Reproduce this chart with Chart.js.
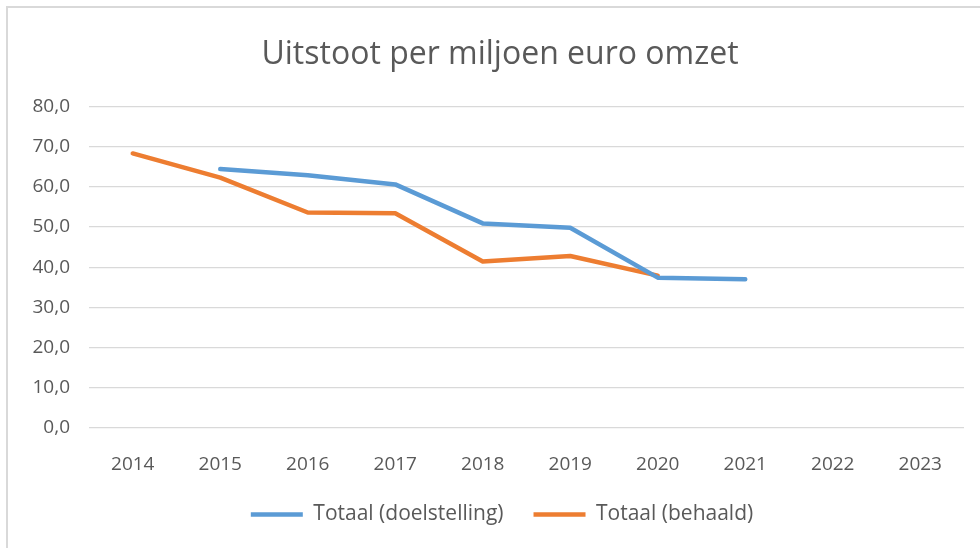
<!DOCTYPE html>
<html>
<head>
<meta charset="utf-8">
<script src="https://cdn.jsdelivr.net/npm/chart.js@4"></script>
<style>
    html, body { margin: 0; padding: 0; background: #fff; }
    #wrap { position: relative; width: 980px; height: 548px; overflow: hidden; }
    #frame { position: absolute; left: 6px; top: 6px; right: -4px; bottom: -4px; border-left: 2px solid #d9d9d9; border-top: 2px solid #d9d9d9; }
    #chart { position: absolute; left: 0; top: 0; }
</style>
</head>
<body>
<div id="wrap">
    <div id="frame"></div>
    <canvas id="chart" width="980" height="548"></canvas>
</div>
<script>
const years = ['2014', '2015', '2016', '2017', '2018', '2019', '2020', '2021', '2022', '2023'];
const doelstelling = [null, 64.4, 62.9, 60.6, 50.9, 49.8, 37.4, 37.0, null, null];
const behaald = [68.3, 62.3, 53.6, 53.4, 41.4, 42.8, 37.9, null, null, null];
const seriesNames = ['Totaal (doelstelling)', 'Totaal (behaald)'];

const textColor = '#595959';
const fontFamily = '"Open Sans", "DejaVu Sans", sans-serif';

Chart.defaults.font.family = fontFamily;
Chart.defaults.color = textColor;

// centre title and legend over the whole frame, not only the padded box
const shiftBoxes = {
    id: 'shiftBoxes',
    afterLayout(chart) {
        if (chart.titleBlock) chart.titleBlock.left += 36;
        if (chart.legend) chart.legend.left += 40;
    }
};

const ctx = document.getElementById('chart').getContext('2d');
new Chart(ctx, {
    type: 'line',
    data: {
        labels: years,
        datasets: [
            {
                label: seriesNames[0],
                data: doelstelling,
                borderColor: '#5B9BD5',
                backgroundColor: '#5B9BD5',
                borderWidth: 4.5,
                pointRadius: 0,
                tension: 0,
                borderCapStyle: 'round',
                borderJoinStyle: 'round'
            },
            {
                label: seriesNames[1],
                data: behaald,
                borderColor: '#ED7D31',
                backgroundColor: '#ED7D31',
                borderWidth: 4.5,
                pointRadius: 0,
                tension: 0,
                borderCapStyle: 'round',
                borderJoinStyle: 'round'
            }
        ]
    },
    plugins: [shiftBoxes],
    options: {
        responsive: false,
        animation: false,
        layout: { padding: { left: 0, right: 16, top: 0, bottom: 13 } },
        plugins: {
            title: {
                display: true,
                text: 'Uitstoot per miljoen euro omzet',
                color: textColor,
                font: { size: 32, weight: 'normal', lineHeight: 1.2 },
                padding: { top: 36, bottom: 32 }
            },
            legend: {
                position: 'bottom',
                labels: {
                    usePointStyle: true,
                    pointStyle: 'line',
                    pointStyleWidth: 52,
                    boxWidth: 48,
                    padding: 30,
                    color: textColor,
                    font: { size: 21 }
                }
            },
            tooltip: { enabled: false }
        },
        scales: {
            x: {
                offset: true,
                grid: { display: false },
                border: { display: false },
                ticks: { padding: 17, color: textColor, font: { size: 19 }, maxRotation: 0 },
                afterFit: (scale) => { scale.height = 46; }
            },
            y: {
                min: 0,
                max: 80,
                grid: { color: '#d9d9d9', lineWidth: 1.3, drawTicks: false },
                border: { display: false },
                ticks: {
                    stepSize: 10,
                    padding: 19,
                    color: textColor,
                    font: { size: 19 },
                    callback: (v) => v.toFixed(1).replace('.', ',')
                },
                afterFit: (scale) => { scale.width = 89; }
            }
        }
    }
});
</script>
</body>
</html>
